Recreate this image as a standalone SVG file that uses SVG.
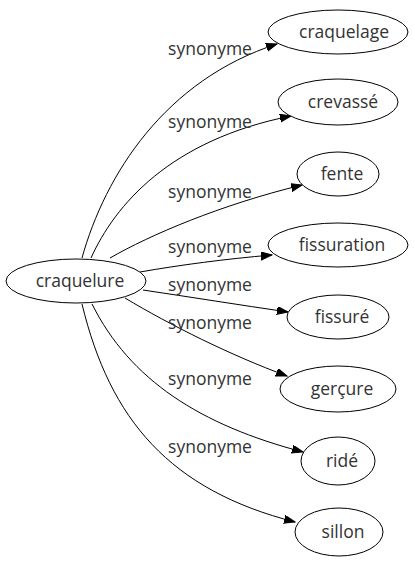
<svg xmlns="http://www.w3.org/2000/svg" width="414" height="563" viewBox="0 0 414 563">
<style>
.node ellipse{fill:#fff;stroke:#000;stroke-width:1}
.node text,.lbl{font-family:"Open Sans","DejaVu Sans",sans-serif;font-size:17.5px;fill:#333;text-anchor:middle}
.edges path{fill:none;stroke:#000;stroke-width:1}
</style>
<defs>
<marker id="ah" markerUnits="userSpaceOnUse" markerWidth="12" markerHeight="10" refX="11" refY="4" orient="auto">
<path d="M0,0 L11,4 L0,8 z" fill="#000" stroke="#000" stroke-width="1"/>
</marker>
</defs>
<rect width="414" height="563" fill="#fff"/>
<g class="edges">
<path d="M82,258 C105,175 165,80 277,44" marker-end="url(#ah)"/>
<path d="M91,258 C115,205 170,140 291,116" marker-end="url(#ah)"/>
<path d="M110,258 C150,235 220,205 302,185" marker-end="url(#ah)"/>
<path d="M140,272 C180,265 225,259 272,255" marker-end="url(#ah)"/>
<path d="M143,290 C190,297 240,305 288,312" marker-end="url(#ah)"/>
<path d="M125,298 C170,325 230,355 287,376" marker-end="url(#ah)"/>
<path d="M92,304 C130,380 200,425 303,452" marker-end="url(#ah)"/>
<path d="M82,304 C110,420 170,490 295,522" marker-end="url(#ah)"/>
<text class="lbl" x="210" y="55">synonyme</text>
<text class="lbl" x="210" y="128">synonyme</text>
<text class="lbl" x="210" y="198">synonyme</text>
<text class="lbl" x="210" y="253">synonyme</text>
<text class="lbl" x="210" y="291">synonyme</text>
<text class="lbl" x="210" y="329">synonyme</text>
<text class="lbl" x="210" y="385">synonyme</text>
<text class="lbl" x="210" y="453">synonyme</text>
</g>
<g id="craquelure" class="node"><ellipse cx="76" cy="281" rx="70" ry="22"/><text x="80" y="287">craquelure</text></g>
<g id="craquelage" class="node"><ellipse cx="338" cy="32" rx="70" ry="22"/><text x="344" y="38">craquelage</text></g>
<g id="crevasse" class="node"><ellipse cx="338" cy="102" rx="60" ry="23"/><text x="343" y="108">crevassé</text></g>
<g id="fente" class="node"><ellipse cx="338" cy="174" rx="41" ry="22"/><text x="342" y="180">fente</text></g>
<g id="fissuration" class="node"><ellipse cx="338" cy="245" rx="70" ry="22"/><text x="342" y="251">fissuration</text></g>
<g id="fissure" class="node"><ellipse cx="338" cy="317" rx="51" ry="22"/><text x="342" y="323">fissuré</text></g>
<g id="gercure" class="node"><ellipse cx="338" cy="389" rx="58" ry="23"/><text x="342" y="395">gerçure</text></g>
<g id="ride" class="node"><ellipse cx="338" cy="461" rx="37" ry="24"/><text x="342" y="467">ridé</text></g>
<g id="sillon" class="node"><ellipse cx="339" cy="532" rx="44" ry="24"/><text x="343" y="538">sillon</text></g>
</svg>
